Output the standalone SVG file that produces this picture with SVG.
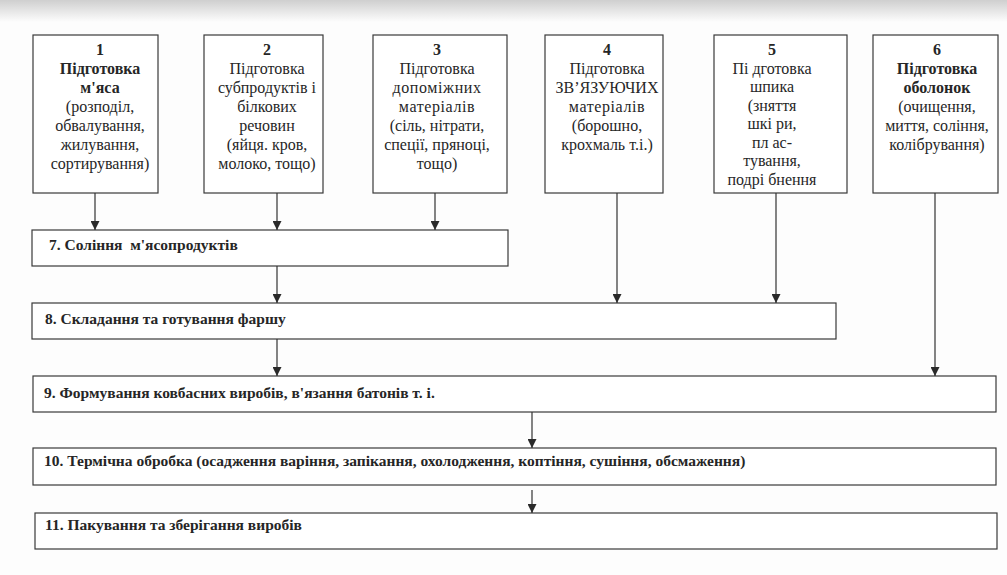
<svg xmlns="http://www.w3.org/2000/svg" width="1007" height="575" viewBox="0 0 1007 575">
<defs>
<linearGradient id="bg" x1="0" y1="0" x2="0" y2="1">
<stop offset="0" stop-color="#cfcfcf"/>
<stop offset="1" stop-color="#fdfdfd"/>
</linearGradient>
<marker id="ah" viewBox="0 0 10 10" refX="10" refY="5" markerWidth="9" markerHeight="9" markerUnits="userSpaceOnUse" orient="auto">
<path d="M0,0 L10,5 L0,10 z" fill="#2a2a2a"/>
</marker>
<style>
.box{fill:#ffffff;stroke:#3a3a3a;stroke-width:1.2}
.t{font-size:16px;fill:#262626;text-anchor:middle}
.b{font-weight:bold}
.w{font-size:15.5px;font-weight:bold;fill:#262626;white-space:pre}
.c{stroke:#333;stroke-width:1.2;fill:none;marker-end:url(#ah)}
</style>
</defs>
<rect x="0" y="0" width="1007" height="575" fill="#fdfdfd"/>
<rect x="0" y="0" width="1007" height="22" fill="url(#bg)"/>

<g font-family="Liberation Serif, Times New Roman, DejaVu Serif, serif">
<g id="n1">
<rect class="box" x="33" y="35" width="125" height="158"/>
<text class="t b" x="100" y="55">1</text>
<text class="t b" x="100" y="74">Підготовка</text>
<text class="t b" x="100" y="93">м'яса</text>
<text class="t" x="100" y="112">(розподіл,</text>
<text class="t" x="100" y="131">обвалування,</text>
<text class="t" x="100" y="150">жилування,</text>
<text class="t" x="100" y="169">сортирування)</text>
</g>
<g id="n2">
<rect class="box" x="204" y="35" width="119" height="158"/>
<text class="t b" x="267" y="55">2</text>
<text class="t" x="267" y="74">Підготовка</text>
<text class="t" x="267" y="93">субпродуктів і</text>
<text class="t" x="267" y="112">білкових</text>
<text class="t" x="267" y="131">речовин</text>
<text class="t" x="267" y="150">(яйця. кров,</text>
<text class="t" x="267" y="169">молоко, тощо)</text>
</g>
<g id="n3">
<rect class="box" x="373" y="35" width="134" height="158"/>
<text class="t b" x="437" y="55">3</text>
<text class="t" x="437" y="74">Підготовка</text>
<text class="t" x="437" y="93" letter-spacing="0.6">допоміжних</text>
<text class="t" x="437" y="112" letter-spacing="0.6">матеріалів</text>
<text class="t" x="437" y="131">(сіль, нітрати,</text>
<text class="t" x="437" y="150">спеції, пряноці,</text>
<text class="t" x="437" y="169">тощо)</text>
</g>
<g id="n4">
<rect class="box" x="545" y="35" width="118" height="158"/>
<text class="t b" x="607" y="55">4</text>
<text class="t" x="607" y="74">Підготовка</text>
<text class="t" x="607" y="93">ЗВ’ЯЗУЮЧИХ</text>
<text class="t" x="607" y="112" letter-spacing="0.6">матеріалів</text>
<text class="t" x="607" y="131">(борошно,</text>
<text class="t" x="607" y="150">крохмаль т.і.)</text>
</g>
<g id="n5">
<rect class="box" x="714" y="35" width="133" height="158"/>
<text class="t b" x="772" y="55">5</text>
<text class="t" x="772" y="73.5">Пі дготовка</text>
<text class="t" x="772" y="92">шпика</text>
<text class="t" x="772" y="110.5">(зняття</text>
<text class="t" x="772" y="129">шкі ри,</text>
<text class="t" x="772" y="147.5">пл ас-</text>
<text class="t" x="772" y="166">тування,</text>
<text class="t" x="772" y="184.5">подрі бнення</text>
</g>
<g id="n6">
<rect class="box" x="873" y="35" width="125" height="158"/>
<text class="t b" x="937" y="55">6</text>
<text class="t b" x="937" y="74">Підготовка</text>
<text class="t b" x="937" y="93">оболонок</text>
<text class="t" x="937" y="112">(очищення,</text>
<text class="t" x="937" y="131">миття, соління,</text>
<text class="t" x="937" y="150">колібрування)</text>
</g>
<g id="n7">
<rect class="box" x="32" y="230" width="476" height="36"/>
<text class="w" x="49" y="250">7. Соління  м'ясопродуктів</text>
</g>
<g id="n8">
<rect class="box" x="32" y="303" width="804" height="36"/>
<text class="w" x="45" y="324">8. Складання та готування фаршу</text>
</g>
<g id="n9">
<rect class="box" x="33" y="376" width="963" height="36"/>
<text class="w" x="44" y="398">9. Формування ковбасних виробів, в'язання батонів т. і.</text>
</g>
<g id="n10">
<rect class="box" x="33" y="448" width="963" height="37"/>
<text class="w" x="44" y="466">10. Термічна обробка (осадження варіння, запікання, охолодження, коптіння, сушіння, обсмаження)</text>
</g>
<g id="n11">
<rect class="box" x="35" y="513" width="962" height="36"/>
<text class="w" x="45" y="530">11. Пакування та зберігання виробів</text>
</g>
</g>

<g id="connectors">
<line class="c" x1="95" y1="193" x2="95" y2="230"/>
<line class="c" x1="277" y1="193" x2="277" y2="230"/>
<line class="c" x1="435" y1="193" x2="435" y2="230"/>
<line class="c" x1="277" y1="266" x2="277" y2="303"/>
<line class="c" x1="617" y1="193" x2="617" y2="303"/>
<line class="c" x1="776" y1="193" x2="776" y2="303"/>
<line class="c" x1="277" y1="339" x2="277" y2="376"/>
<line class="c" x1="935" y1="193" x2="935" y2="376"/>
<line class="c" x1="532" y1="412" x2="532" y2="448"/>
<line class="c" x1="532" y1="490" x2="532" y2="513"/>
</g>
</svg>
